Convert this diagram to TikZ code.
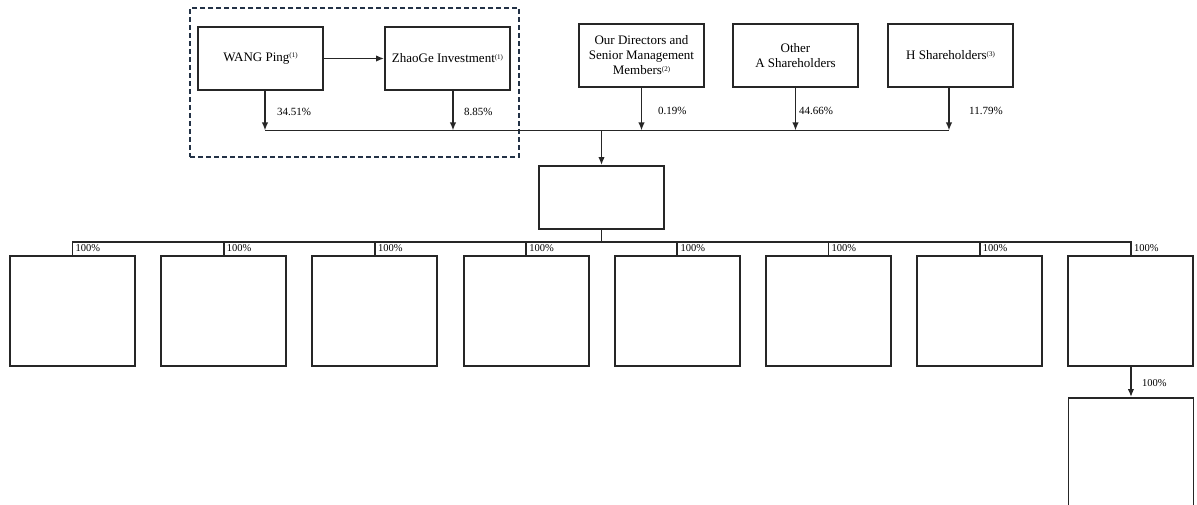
\documentclass[tikz,border=0pt]{standalone}
\usepackage{fontspec}
\setmainfont{Liberation Serif}
\usetikzlibrary{arrows.meta, calc, positioning}
\definecolor{groupline}{RGB}{35,50,70}
\newcommand{\noteref}[1]{\raisebox{0.65ex}{\fontsize{7}{7}\selectfont(#1)}}

\begin{document}
\begin{tikzpicture}[x=1pt, y=-1pt, font=\fontsize{13}{15}\selectfont,
    holder/.style={draw=black!85, line width=1.9pt, minimum width=125pt, minimum height=63pt, inner sep=2pt, align=center},
    subsid/.style={draw=black!85, line width=1.9pt, minimum width=125pt, minimum height=110pt, inner sep=0pt},
    groupbox/.style={draw=groupline, line width=1.8pt, dash pattern=on 5pt off 3pt, minimum width=329pt, minimum height=149pt},
    stake/.style={-{Latex[length=8pt, width=6.5pt]}, line width=1.8pt, black!85},
    bus/.style={line width=1.8pt, black!85},
    pct/.style={anchor=west, font=\fontsize{11}{12}\selectfont, inner sep=0pt},
    subpct/.style={anchor=west, font=\fontsize{10.5}{12}\selectfont, inner sep=0pt}]

\useasboundingbox (0,0) rectangle (1197,505);
\clip (0,0) rectangle (1197,505);

%
\node[groupbox] (group) at (354.5,82.5) {};
\node[holder] (wang)  at (260.5,58.5) {WANG Ping\noteref{1}};
\node[holder] (zhao)  at (447.5,58.5) {ZhaoGe Investment\noteref{1}};
\node[holder] (dir)   at (641.5,55.5) {Our Directors and\\Senior Management\\Members\noteref{2}};
\node[holder] (othA)  at (795.5,55.5) {Other\\A Shareholders};
\node[holder] (hsh)   at (950.5,55.5) {H Shareholders\noteref{3}};
\node[holder] (company) at (601.5,197.5) {};

\draw[stake] (wang.east) -- (zhao.west);

%
\coordinate (topL) at (265,130.5);
\coordinate (topR) at (949,130.5);
\draw[bus] (topL) -- (topR);
\draw[stake] ([xshift=4.5pt]wang.south) -- ([xshift=4.5pt]wang.south |- topL);
\draw[stake] ([xshift=5.5pt]zhao.south) -- ([xshift=5.5pt]zhao.south |- topL);
\draw[stake] (dir.south) -- (dir.south |- topL);
\draw[stake] (othA.south) -- (othA.south |- topL);
\draw[stake] ([xshift=-1.5pt]hsh.south) -- ([xshift=-1.5pt]hsh.south |- topL);
\draw[stake] (company.north |- topL) -- (company.north);

\node[pct] at ($(wang.south)+(16.5,21)$) {34.51\%};
\node[pct] at ($(zhao.south)+(16.5,21)$) {8.85\%};
\node[pct] at ($(dir.south)+(16.5,23)$) {0.19\%};
\node[pct] at ($(othA.south)+(3.5,23)$) {44.66\%};
\node[pct] at ($(hsh.south)+(18.5,23)$) {11.79\%};

%
\coordinate (split) at ($(company.south)+(0,12)$);
\draw[bus] (company.south) -- (split);
\foreach \i in {0,...,7} {
  \node[subsid] (sub\i) at ({72.5+151.2*\i},311) {};
  \draw[bus] (split) -| (sub\i.north);
  \node[subpct] at ($(sub\i.north)+(3,-6.8)$) {100\%};
}

%
\node[subsid] (sub8) at (1131,453) {};
\draw[stake] (sub7.south) -- (sub8.north);
\node[subpct] at ($(sub7.south)!0.5!(sub8.north)+(11,1.5)$) {100\%};
\end{tikzpicture}
\end{document}
